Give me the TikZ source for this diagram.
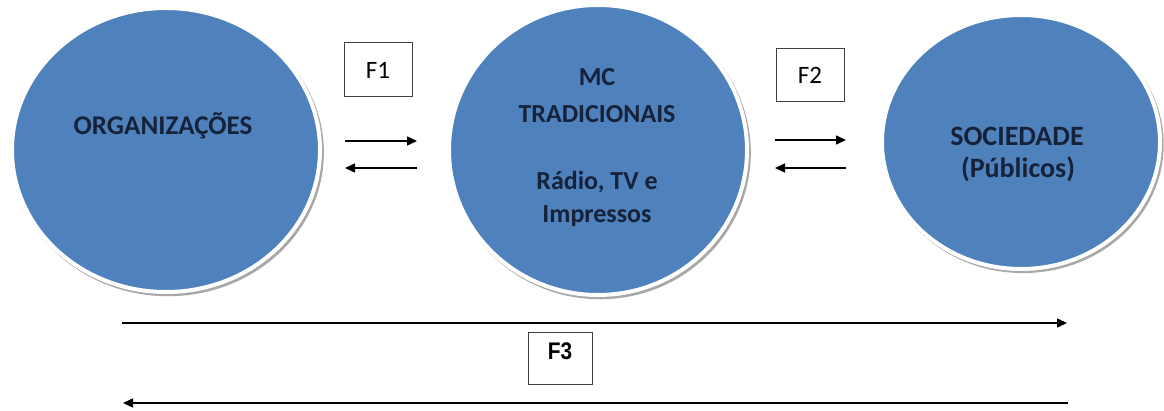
\documentclass[tikz,border=0pt]{standalone}
\usepackage{fontspec}
\setmainfont{Carlito}
\newfontfamily\arialfont{Liberation Sans}
\usetikzlibrary{shapes.geometric,arrows.meta,shadows}
\definecolor{bubblefill}{RGB}{79,129,189}
\definecolor{bubbletext}{RGB}{22,34,58}
\definecolor{boxline}{RGB}{64,64,64}
\tikzset{
  bubble/.style={ellipse, fill=bubblefill, draw=white, line width=4pt, inner sep=0pt,
    drop shadow={shadow xshift=2pt, shadow yshift=-2.5pt, shadow scale=1.012, fill=gray!75, opacity=0.9}},
  bubbletxt/.style={font=\bfseries\fontsize{#1}{#1}\selectfont, text=bubbletext, inner sep=0pt, anchor=base},
  bubbletxt/.default=26,
  flowbox/.style={draw=boxline, line width=1pt, fill=white, inner sep=0pt},
  flowtxt/.style={font=\fontsize{25}{28}\selectfont, inner sep=0pt},
  flow/.style={line width=1.5pt, -{Triangle[length=10pt,width=9pt]}},
}
\begin{document}
\begin{tikzpicture}[x=1pt,y=-1pt]
\useasboundingbox (0,0) rectangle (1164,411);

% the three actors
\node[bubble, minimum width=308pt, minimum height=284pt] (org) at (166,150) {};
\node[bubble, minimum width=298pt, minimum height=290pt] (mc) at (598,150) {};
\node[bubble, minimum width=278pt, minimum height=254pt] (soc) at (1021,142) {};

\node[bubbletxt=27] (orgtxt) at (163,135) {ORGANIZAÇÕES};
\node[bubbletxt] (mc1) at (597,86) {MC};
\node[bubbletxt] (mc2) at (597,123) {TRADICIONAIS};
\node[bubbletxt] (mc3) at (597,190) {Rádio, TV e};
\node[bubbletxt] (mc4) at (597,223) {Impressos};
\node[bubbletxt=28] (soc1) at (1017,146) {SOCIEDADE};
\node[bubbletxt=28] (soc2) at (1018,178) {(Públicos)};

% flow labels
\node[flowbox, minimum width=68pt, minimum height=54pt, flowtxt] (f1) at (378,70) {F1};
\node[flowbox, minimum width=68pt, minimum height=53pt, flowtxt] (f2) at (810,75.5) {F2};
\node[flowbox, minimum width=64pt, minimum height=51pt] (f3) at (560,358.5) {};
\node[font=\arialfont\bfseries\fontsize{24}{28}\selectfont, inner sep=0pt, xscale=0.87] (f3txt) at (560,351.5) {F3};

% arrow end points
\coordinate (a1l) at (345,141); \coordinate (a1r) at (417,141);
\coordinate (b1l) at (345,168); \coordinate (b1r) at (417,168);
\coordinate (a2l) at (775,140); \coordinate (a2r) at (846,140);
\coordinate (b2l) at (775,168); \coordinate (b2r) at (846,168);
\coordinate (a3l) at (122,323); \coordinate (a3r) at (1067,323);
\coordinate (b3l) at (123,403); \coordinate (b3r) at (1068,403);

\draw[flow] (a1l) -- (a1r);
\draw[flow] (b1r) -- (b1l);
\draw[flow] (a2l) -- (a2r);
\draw[flow] (b2r) -- (b2l);
\draw[flow] (a3l) -- (a3r);
\draw[flow] (b3r) -- (b3l);
\end{tikzpicture}
\end{document}
